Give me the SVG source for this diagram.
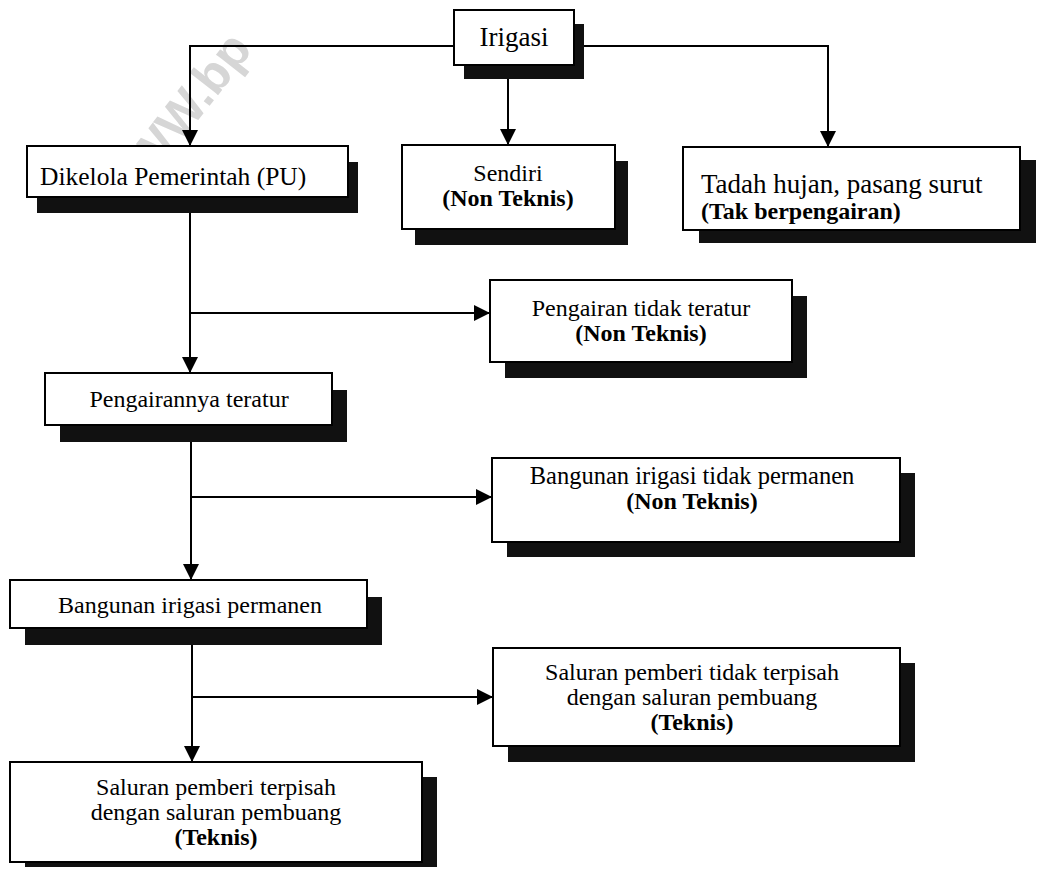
<svg xmlns="http://www.w3.org/2000/svg" width="1039" height="870" viewBox="0 0 1039 870">
<style>
.bg{fill:#ffffff}
.shadow{fill:#111111}
.box{fill:#ffffff;stroke:#000000;stroke-width:2}
.t{font-family:"Liberation Serif","Times New Roman",serif;font-size:24px;fill:#000000}
.c{text-anchor:middle}
.b{font-weight:bold}
.conn{fill:none;stroke:#000000;stroke-width:2}
.wm{font-family:"Liberation Sans",Arial,sans-serif;font-weight:bold;font-size:50px;fill:#d6d6d6}
</style>
<defs>
<marker id="arr" markerUnits="userSpaceOnUse" markerWidth="16" markerHeight="16" refX="16" refY="8" orient="auto">
<path d="M0,0 L16,8 L0,16 Z" fill="#000000"/>
</marker>
</defs>
<rect class="bg" x="0" y="0" width="1039" height="870"/>
<text class="wm" transform="translate(122,218) rotate(-52)">WWW.bp</text>

<g id="connectors">
<polyline class="conn" points="454,46 190,46 190,146" marker-end="url(#arr)"/>
<line class="conn" x1="508" y1="65" x2="508" y2="145" marker-end="url(#arr)"/>
<polyline class="conn" points="574,46 828,46 828,147" marker-end="url(#arr)"/>
<line class="conn" x1="190" y1="197" x2="190" y2="373" marker-end="url(#arr)"/>
<line class="conn" x1="190" y1="313" x2="490" y2="313" marker-end="url(#arr)"/>
<line class="conn" x1="191" y1="425" x2="191" y2="580" marker-end="url(#arr)"/>
<line class="conn" x1="191" y1="497" x2="492" y2="497" marker-end="url(#arr)"/>
<line class="conn" x1="192" y1="628" x2="192" y2="762" marker-end="url(#arr)"/>
<line class="conn" x1="192" y1="697" x2="493" y2="697" marker-end="url(#arr)"/>
</g>

<g id="irigasi">
<rect class="shadow" x="464" y="24" width="120" height="55"/>
<rect class="box" x="454" y="10" width="120" height="55"/>
<text class="t c" x="514" y="46" style="font-size:27px">Irigasi</text>
</g>

<g id="dikelola">
<rect class="shadow" x="37" y="162" width="321" height="51"/>
<rect class="box" x="27" y="146" width="321" height="51"/>
<text class="t" x="40" y="185" style="font-size:25.5px">Dikelola Pemerintah (PU)</text>
</g>

<g id="sendiri">
<rect class="shadow" x="415" y="161" width="213" height="84"/>
<rect class="box" x="402" y="145" width="213" height="84"/>
<text class="t c" x="508" y="181">Sendiri</text>
<text class="t c b" x="508" y="206">(Non Teknis)</text>
</g>

<g id="tadah">
<rect class="shadow" x="699" y="160" width="337" height="83"/>
<rect class="box" x="683" y="147" width="337" height="83"/>
<text class="t" x="701" y="193" style="font-size:27px">Tadah hujan, pasang surut</text>
<text class="t b" x="701" y="219">(Tak berpengairan)</text>
</g>

<g id="pengairan-tidak-teratur">
<rect class="shadow" x="505" y="296" width="302" height="82"/>
<rect class="box" x="490" y="280" width="302" height="82"/>
<text class="t c" x="641" y="316">Pengairan tidak teratur</text>
<text class="t c b" x="641" y="341">(Non Teknis)</text>
</g>

<g id="pengairannya-teratur">
<rect class="shadow" x="60" y="390" width="287" height="52"/>
<rect class="box" x="45" y="373" width="287" height="52"/>
<text class="t c" x="189" y="407">Pengairannya teratur</text>
</g>

<g id="bangunan-tidak-permanen">
<rect class="shadow" x="507" y="473" width="408" height="84"/>
<rect class="box" x="492" y="458" width="408" height="84"/>
<text class="t c" x="692" y="484" style="font-size:24.5px">Bangunan irigasi tidak permanen</text>
<text class="t c b" x="692" y="509">(Non Teknis)</text>
</g>

<g id="bangunan-permanen">
<rect class="shadow" x="25" y="597" width="357" height="48"/>
<rect class="box" x="10" y="580" width="357" height="48"/>
<text class="t c" x="190" y="613">Bangunan irigasi permanen</text>
</g>

<g id="saluran-tidak-terpisah">
<rect class="shadow" x="508" y="663" width="407" height="99"/>
<rect class="box" x="493" y="648" width="407" height="98"/>
<text class="t c" x="692" y="680">Saluran pemberi tidak terpisah</text>
<text class="t c" x="692" y="705">dengan saluran pembuang</text>
<text class="t c b" x="692" y="730">(Teknis)</text>
</g>

<g id="saluran-terpisah">
<rect class="shadow" x="25" y="777" width="412" height="90"/>
<rect class="box" x="10" y="762" width="412" height="100"/>
<text class="t c" x="216" y="795">Saluran pemberi terpisah</text>
<text class="t c" x="216" y="820">dengan saluran pembuang</text>
<text class="t c b" x="216" y="845">(Teknis)</text>
</g>
</svg>
